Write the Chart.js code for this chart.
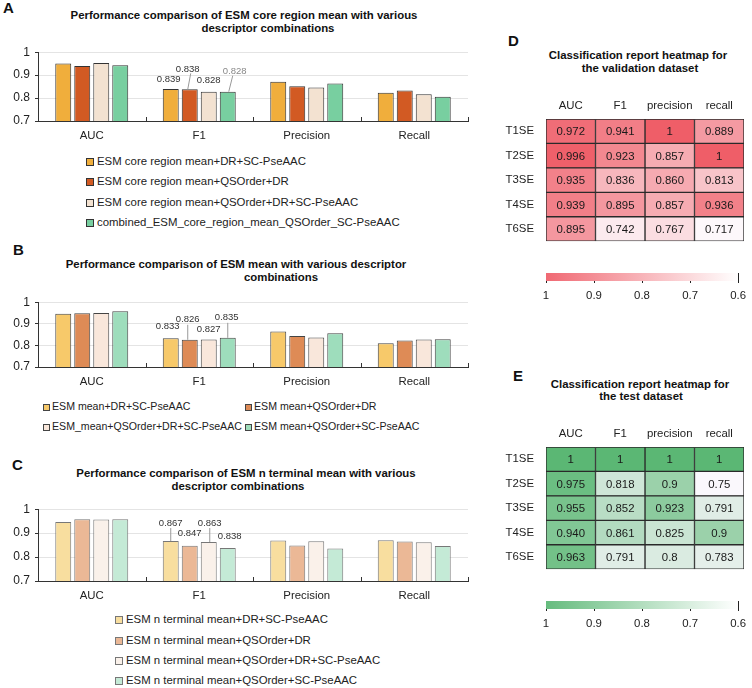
<!DOCTYPE html>
<html>
<head>
<meta charset="utf-8">
<script src="https://cdn.jsdelivr.net/npm/chart.js@4"></script>
<style>
  body { margin: 0; background: #fff; font-family: 'Liberation Sans', Arial, sans-serif; color: #222; }
  #wrap { position: relative; width: 752px; height: 688px; overflow: hidden; }
  canvas { position: absolute; }
  .t { position: absolute; white-space: nowrap; font-size: 11.4px; line-height: 14px; }
  .title { font-weight: bold; transform: translateX(-50%); color: #111; }
  .panel { font-weight: bold; font-size: 15px; line-height: 16px; color: #111; }
  .leg { position: absolute; white-space: nowrap; font-size: 11.4px; line-height: 14px; }
  .leg i { display: inline-block; width: 6px; height: 6px; border: 1px solid #333; margin-right: 3px; vertical-align: -1px; }
  #legB .leg { font-size: 10.6px; }
  #legB .leg i { width: 5px; height: 5px; margin-right: 2px; }
</style>
</head>
<body>
<div id="wrap">
  <div class="t panel" style="left:3px;top:0px">A</div>
  <div class="t title" style="left:244px;top:8px">Performance comparison of ESM core region mean with various</div>
  <div class="t title" style="left:268px;top:21px">descriptor combinations</div>
  <canvas id="chartA" width="475" height="105" style="left:0;top:40px"></canvas>
  <div id="legA"></div>

  <div class="t panel" style="left:13px;top:242px">B</div>
  <div class="t title" style="left:236px;top:257px">Performance comparison of ESM mean with various descriptor</div>
  <div class="t title" style="left:281px;top:270px">combinations</div>
  <canvas id="chartB" width="475" height="100" style="left:0;top:290px"></canvas>
  <div id="legB"></div>

  <div class="t panel" style="left:12px;top:457px">C</div>
  <div class="t title" style="left:246px;top:466px">Performance comparison of ESM n terminal mean with various</div>
  <div class="t title" style="left:238px;top:479px">descriptor combinations</div>
  <canvas id="chartC" width="475" height="105" style="left:0;top:497px"></canvas>
  <div id="legC"></div>

  <div class="t panel" style="left:508px;top:33px">D</div>
  <div class="t title" style="left:638px;top:48px">Classification report heatmap for</div>
  <div class="t title" style="left:640px;top:61px">the validation dataset</div>
  <canvas id="heatD" width="262" height="165" style="left:490px;top:95px"></canvas>
  <canvas id="barD" width="232" height="40" style="left:520px;top:268px"></canvas>

  <div class="t panel" style="left:513px;top:368px">E</div>
  <div class="t title" style="left:640px;top:377px">Classification report heatmap for</div>
  <div class="t title" style="left:641px;top:389px">the test dataset</div>
  <canvas id="heatE" width="262" height="165" style="left:490px;top:423px"></canvas>
  <canvas id="barE" width="232" height="40" style="left:520px;top:596px"></canvas>
</div>
<script>
// ---- bar chart data ----
var metrics = ['AUC', 'F1', 'Precision', 'Recall'];

var namesA = ['ESM core region mean+DR+SC-PseAAC', 'ESM core region mean+QSOrder+DR',
  'ESM core region mean+QSOrder+DR+SC-PseAAC', 'combined_ESM_core_region_mean_QSOrder_SC-PseAAC'];
var coreDrSc = [0.951, 0.839, 0.871, 0.823];
var coreQsoDr = [0.940, 0.838, 0.852, 0.833];
var coreQsoDrSc = [0.953, 0.828, 0.846, 0.817];
var coreCombined = [0.943, 0.828, 0.864, 0.806];

var namesB = ['ESM mean+DR+SC-PseAAC', 'ESM mean+QSOrder+DR',
  'ESM_mean+QSOrder+DR+SC-PseAAC', 'ESM mean+QSOrder+SC-PseAAC'];
var meanDrSc = [0.947, 0.833, 0.864, 0.810];
var meanQsoDr = [0.949, 0.826, 0.844, 0.823];
var meanQsoDrSc = [0.950, 0.827, 0.836, 0.827];
var meanQsoSc = [0.958, 0.835, 0.856, 0.829];

var namesC = ['ESM n terminal mean+DR+SC-PseAAC', 'ESM n terminal mean+QSOrder+DR',
  'ESM n terminal mean+QSOrder+DR+SC-PseAAC', 'ESM n terminal mean+QSOrder+SC-PseAAC'];
var ntDrSc = [0.947, 0.867, 0.869, 0.870];
var ntQsoDr = [0.958, 0.847, 0.848, 0.865];
var ntQsoDrSc = [0.957, 0.863, 0.866, 0.862];
var ntQsoSc = [0.958, 0.838, 0.836, 0.846];

// ---- heatmap data ----
var rows = ['T1SE', 'T2SE', 'T3SE', 'T4SE', 'T6SE'];
var cols = ['AUC', 'F1', 'precision', 'recall'];
var valAUC = ['0.972', '0.996', '0.935', '0.939', '0.895'];
var valF1 = ['0.941', '0.923', '0.836', '0.895', '0.742'];
var valPrecision = ['1', '0.857', '0.860', '0.857', '0.767'];
var valRecall = ['0.889', '1', '0.813', '0.936', '0.717'];
var testAUC = ['1', '0.975', '0.955', '0.940', '0.963'];
var testF1 = ['1', '0.818', '0.852', '0.861', '0.791'];
var testPrecision = ['1', '0.9', '0.923', '0.825', '0.8'];
var testRecall = ['1', '0.75', '0.791', '0.9', '0.783'];
var scaleTicks = [1, 0.9, 0.8, 0.7, 0.6];

Chart.defaults.font.family = "'Liberation Sans', Arial, sans-serif";
Chart.defaults.font.size = 11.4;
Chart.defaults.color = '#222';
Chart.defaults.animation = false;
Chart.defaults.plugins.legend.display = false;
Chart.defaults.plugins.tooltip.enabled = false;

// small upward tick marks between the categories, plus labels over the F1 bars
var extras = {
  id: 'extras',
  afterDatasetsDraw: function(chart, args, opts) {
    if (!opts.marks) return;
    var ctx = chart.ctx, xs = chart.scales.x, area = chart.chartArea;
    var step = xs.getPixelForTick(1) - xs.getPixelForTick(0);
    ctx.save();
    ctx.strokeStyle = '#333';
    ctx.lineWidth = 1;
    for (var i = 1; i <= metrics.length; i++) {
      var bx = Math.round(xs.getPixelForTick(i - 1) + step / 2) + 0.5;
      ctx.beginPath(); ctx.moveTo(bx, area.bottom); ctx.lineTo(bx, area.bottom - 4); ctx.stroke();
    }
    ctx.font = "9.5px 'Liberation Sans', Arial, sans-serif";
    ctx.textAlign = 'center';
    ctx.textBaseline = 'middle';
    chart.data.datasets.forEach(function(ds, j) {
      var el = chart.getDatasetMeta(j).data[1];
      var m = opts.marks[j];
      var x = el.x + m.dx, y = el.y + m.dy;
      if (m.line) {
        ctx.strokeStyle = '#999';
        ctx.beginPath();
        ctx.moveTo(x + m.line[0], y + m.line[1]);
        ctx.lineTo(el.x + m.line[2], el.y + m.line[3]);
        ctx.stroke();
      }
      ctx.fillStyle = m.color || '#333';
      ctx.fillText(ds.data[1].toFixed(3), x, y);
    });
    ctx.restore();
  }
};

function barChart(id, names, series, colors, edge, top, bottom, marks) {
  return new Chart(document.getElementById(id), {
    type: 'bar',
    data: {
      labels: metrics,
      datasets: series.map(function(s, i) {
        return { label: names[i], data: s, backgroundColor: colors[i], borderColor: edge,
                 borderWidth: 1, categoryPercentage: 0.707, barPercentage: 0.84 };
      })
    },
    options: {
      responsive: false,
      layout: { padding: { left: 0, right: 7, top: top, bottom: 0 } },
      scales: {
        x: {
          grid: { display: false, drawTicks: false },
          border: { color: '#333' },
          ticks: { padding: 8, color: '#222' },
          afterFit: function(s) { s.height = bottom; }
        },
        y: {
          min: 0.7, max: 1,
          ticks: { stepSize: 0.1, padding: 5, color: '#222', font: { size: 12 },
                   callback: function(v) { var t = v.toFixed(1); return t === '1.0' ? '1' : t; } },
          grid: { color: function(c) { return c.tick.value < 0.75 ? 'rgba(0,0,0,0)' : '#e4e4e4'; },
                  tickColor: '#333', tickLength: 3 },
          border: { color: '#333' },
          afterFit: function(s) { s.width = 38; }
        }
      },
      plugins: { extras: { marks: marks } }
    },
    plugins: [extras]
  });
}

function legend(id, names, colors, edge, spots) {
  var box = document.getElementById(id);
  names.forEach(function(n, i) {
    var d = document.createElement('div');
    d.className = 'leg';
    d.style.left = spots[i][0] + 'px';
    d.style.top = (spots[i][1] - 7) + 'px';
    d.innerHTML = '<i style="background:' + colors[i] + ';border-color:' + edge + '"></i>' + n;
    box.appendChild(d);
  });
}

var colA = ['#F0AE3C', '#D25A23', '#F3E2D1', '#78CFA0'];
var colB = ['#F7C96A', '#DE8B56', '#F9E7DB', '#9EDDBC'];
var colC = ['#F8DE9F', '#EBB896', '#FAF1EA', '#C4EAD6'];

barChart('chartA', namesA, [coreDrSc, coreQsoDr, coreQsoDrSc, coreCombined], colA, '#333', 12, 24, [
  { dx: -2, dy: -10 },
  { dx: -2, dy: -20, line: [3, 4, -2, 0] },
  { dx: 0, dy: -11 },
  { dx: 7, dy: -20, color: '#888', line: [-2, 4, 1, 0] }
]);
barChart('chartB', namesB, [meanDrSc, meanQsoDr, meanQsoDrSc, meanQsoSc], colB, '#444', 11, 23, [
  { dx: -3, dy: -12 },
  { dx: -2, dy: -20, line: [0, 5, -2, 0] },
  { dx: 0, dy: -10 },
  { dx: -1, dy: -20, line: [1, 5, 0, 0] }
]);
barChart('chartC', namesC, [ntDrSc, ntQsoDr, ntQsoDrSc, ntQsoSc], colC, '#777', 12, 21, [
  { dx: 0, dy: -18, line: [0, 5, 0, 0] },
  { dx: 0, dy: -12 },
  { dx: 1, dy: -19, line: [0, 5, 1, 0] },
  { dx: 2, dy: -12 }
]);

legend('legA', namesA, colA, '#333', [[86, 161], [86, 181], [86, 202], [86, 222]]);
legend('legB', namesB, colB, '#444', [[43, 406], [245, 406], [43, 426], [245, 426]]);
legend('legC', namesC, colC, '#777', [[115, 619], [115, 640], [115, 660], [115, 680]]);

// ---- heatmaps ----
function mix(hi, lo, t) {
  var r = Math.round(lo[0] + (hi[0] - lo[0]) * t);
  var g = Math.round(lo[1] + (hi[1] - lo[1]) * t);
  var b = Math.round(lo[2] + (hi[2] - lo[2]) * t);
  return 'rgb(' + r + ',' + g + ',' + b + ')';
}

var cellText = {
  id: 'cellText',
  afterDatasetsDraw: function(chart, args, opts) {
    var ctx = chart.ctx;
    ctx.save();
    ctx.fillStyle = '#1a1a1a';
    ctx.font = "11.4px 'Liberation Sans', Arial, sans-serif";
    ctx.textAlign = 'center';
    ctx.textBaseline = 'middle';
    opts.values.forEach(function(col, j) {
      chart.getDatasetMeta(j).data.forEach(function(el, i) {
        ctx.fillText(col[i], (el.x + el.base) / 2, el.y + 1);
      });
    });
    ctx.restore();
  }
};

function heatmap(id, values, hi, lo) {
  var all = [].concat.apply([], values).map(Number);
  var vmin = Math.min.apply(null, all), vmax = Math.max.apply(null, all);
  return new Chart(document.getElementById(id), {
    type: 'bar',
    data: {
      labels: rows,
      datasets: cols.map(function(c, j) {
        return {
          label: c,
          data: rows.map(function() { return 1; }),
          backgroundColor: values[j].map(function(v) { return mix(hi, lo, (Number(v) - vmin) / (vmax - vmin)); }),
          borderColor: '#2a2a2a', borderWidth: 1, borderSkipped: false,
          barPercentage: 1, categoryPercentage: 1
        };
      })
    },
    options: {
      responsive: false,
      indexAxis: 'y',
      layout: { padding: { left: 0, right: 8, top: 0, bottom: 9 } },
      scales: {
        x: {
          type: 'linear', stacked: true, min: 0, max: cols.length, position: 'top',
          grid: { display: false, drawTicks: false }, border: { display: false },
          afterBuildTicks: function(s) { s.ticks = cols.map(function(c, i) { return { value: i + 0.5 }; }); },
          ticks: { padding: 6, callback: function(v, i) { return cols[i]; } },
          afterFit: function(s) { s.height = 24; }
        },
        y: {
          stacked: true,
          grid: { display: false, drawTicks: false }, border: { display: false },
          ticks: { padding: 12 },
          afterFit: function(s) { s.width = 56; }
        }
      },
      plugins: { cellText: { values: values } }
    },
    plugins: [cellText]
  });
}

function colorBar(id, hi, lo) {
  return new Chart(document.getElementById(id), {
    type: 'bar',
    data: {
      labels: [''],
      datasets: [{
        data: [[scaleTicks[scaleTicks.length - 1], scaleTicks[0]]],
        borderWidth: 0, barPercentage: 1, categoryPercentage: 1,
        backgroundColor: function(c) {
          var a = c.chart.chartArea;
          if (!a) return mix(hi, lo, 0.5);
          var g = c.chart.ctx.createLinearGradient(a.left, 0, a.right, 0);
          g.addColorStop(0, mix(hi, lo, 0.93));
          g.addColorStop(1, mix(hi, lo, 0));
          return g;
        }
      }]
    },
    options: {
      responsive: false,
      indexAxis: 'y',
      layout: { padding: { left: 26, right: 8, top: 5, bottom: 0 } },
      scales: {
        x: {
          type: 'linear', min: 0.6, max: 1, reverse: true, z: 1,
          afterBuildTicks: function(s) { s.ticks = scaleTicks.map(function(v) { return { value: v }; }); },
          ticks: { padding: 6, callback: function(v) { return String(v); } },
          grid: { color: '#222', tickColor: '#222', tickLength: 2, lineWidth: 1 },
          border: { display: false },
          afterFit: function(s) { s.height = 27; }
        },
        y: { display: false }
      }
    }
  });
}

var red = [239, 94, 104], redLo = [253, 248, 251];
var green = [91, 183, 116], greenLo = [250, 248, 252];

heatmap('heatD', [valAUC, valF1, valPrecision, valRecall], red, redLo);
heatmap('heatE', [testAUC, testF1, testPrecision, testRecall], green, greenLo);
colorBar('barD', red, [255, 255, 255]);
colorBar('barE', green, [255, 255, 255]);
</script>
</body>
</html>
